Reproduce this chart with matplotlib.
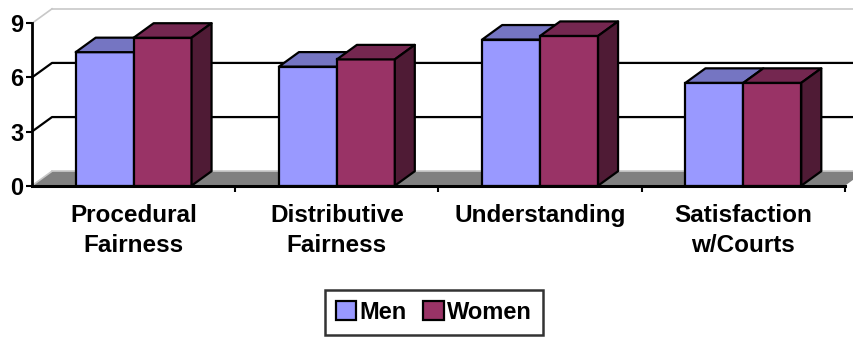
import matplotlib
matplotlib.use('Agg')
import matplotlib.pyplot as plt
from matplotlib.patches import Polygon, Patch

plt.rcParams['font.family'] = ['Liberation Sans', 'DejaVu Sans']
plt.rcParams['font.weight'] = 'bold'

# data
categories = ['Procedural\nFairness', 'Distributive\nFairness', 'Understanding', 'Satisfaction\nw/Courts']
men = [7.4, 6.6, 8.1, 5.7]
women = [8.2, 7.0, 8.3, 5.7]
series_names = ['Men', 'Women']
yticks = [0, 3, 6, 9]

# colours: front, top, side
men_cols = ('#9999FF', '#7575C2', '#5C5C99')
women_cols = ('#993366', '#742750', '#4F1B35')

fig = plt.figure(figsize=(8.54, 3.37), dpi=100)
W, H = 854, 337
ax = fig.add_axes([32 / W, (H - 185.7) / H, (845 - 32) / W, (185.7 - 23.3) / H])
ax.set_xlim(-0.5, 3.5)
ax.set_ylim(0, 9)

# depth of the 3d box in data units
dx = 20 / 203.25
dy = 14.5 / 18.04
bw = 0.285

# floor
floor = Polygon([(-0.5, 0), (3.5, 0), (3.5 + dx, dy), (-0.5 + dx, dy)], closed=True,
                facecolor='#808080', edgecolor='none', clip_on=False, zorder=1)
ax.add_patch(floor)

# back wall and left wall edges
xr = 3.6
ax.plot([-0.5 + dx, xr], [dy, dy], color='#C8C8C8', lw=1.2, clip_on=False, zorder=1.5)
ax.plot([-0.5 + dx, xr], [9 + dy, 9 + dy], color='#C8C8C8', lw=1.2, clip_on=False, zorder=1.5)
ax.plot([-0.5, -0.5 + dx], [9, 9 + dy], color='#C8C8C8', lw=1.2, clip_on=False, zorder=1.5)
ax.plot([-0.5, -0.5 + dx], [0, dy], color='#C8C8C8', lw=1.2, clip_on=False, zorder=1.5)
for v in yticks[1:-1]:
    ax.plot([-0.5, -0.5 + dx, xr], [v, v + dy, v + dy], color='black', lw=1.6,
            clip_on=False, zorder=1.5)


def draw_bar(x0, h, cols, side=True):
    x1 = x0 + bw
    ax.bar(x0, h, width=bw, align='edge', color=cols[0], edgecolor='black',
           linewidth=1.6, zorder=3)
    top = Polygon([(x0, h), (x1, h), (x1 + dx, h + dy), (x0 + dx, h + dy)], closed=True,
                  facecolor=cols[1], edgecolor='black', linewidth=1.6, clip_on=False,
                  zorder=3, joinstyle='round')
    ax.add_patch(top)
    if side:
        sd = Polygon([(x1, 0), (x1 + dx, dy), (x1 + dx, h + dy), (x1, h)], closed=True,
                     facecolor=cols[2], edgecolor='black', linewidth=1.6, clip_on=False,
                     zorder=3, joinstyle='round')
        ax.add_patch(sd)


for i in range(len(categories)):
    draw_bar(i - bw, men[i], men_cols, side=False)
    draw_bar(i, women[i], women_cols)

# axes
for s in ['top', 'right']:
    ax.spines[s].set_visible(False)
ax.spines['left'].set_linewidth(2)
ax.spines['bottom'].set_linewidth(2.2)
ax.spines['left'].set_zorder(4)
ax.spines['bottom'].set_zorder(4)
ax.set_facecolor('none')

ax.set_yticks(yticks)
ax.set_yticklabels([str(v) for v in yticks], fontsize=17, fontweight='bold')
ax.tick_params(axis='y', length=4, width=1.5, pad=2)

ax.set_xticks(range(len(categories)))
ax.set_xticklabels(categories, fontsize=17.5, fontweight='bold', linespacing=1.4)
ax.set_xticks([0.5, 1.5, 2.5, 3.5], minor=True)
ax.tick_params(axis='x', which='major', length=0, pad=13)
ax.tick_params(axis='x', which='minor', length=4, width=1.5)

handles = [Patch(facecolor=men_cols[0], edgecolor='black', linewidth=1.6),
           Patch(facecolor=women_cols[0], edgecolor='black', linewidth=1.6)]
leg = fig.legend(handles, series_names, loc='center', bbox_to_anchor=(434 / W, (H - 312.5) / H),
                 ncol=2, fontsize=17, frameon=True, fancybox=False, handlelength=0.85,
                 handleheight=0.85, handletextpad=0.15, columnspacing=0.7, borderpad=0.45)
leg.get_frame().set_edgecolor('black')
leg.get_frame().set_linewidth(1.8)
for t in leg.get_texts():
    t.set_fontweight('bold')

fig.savefig('out.png', dpi=100)
